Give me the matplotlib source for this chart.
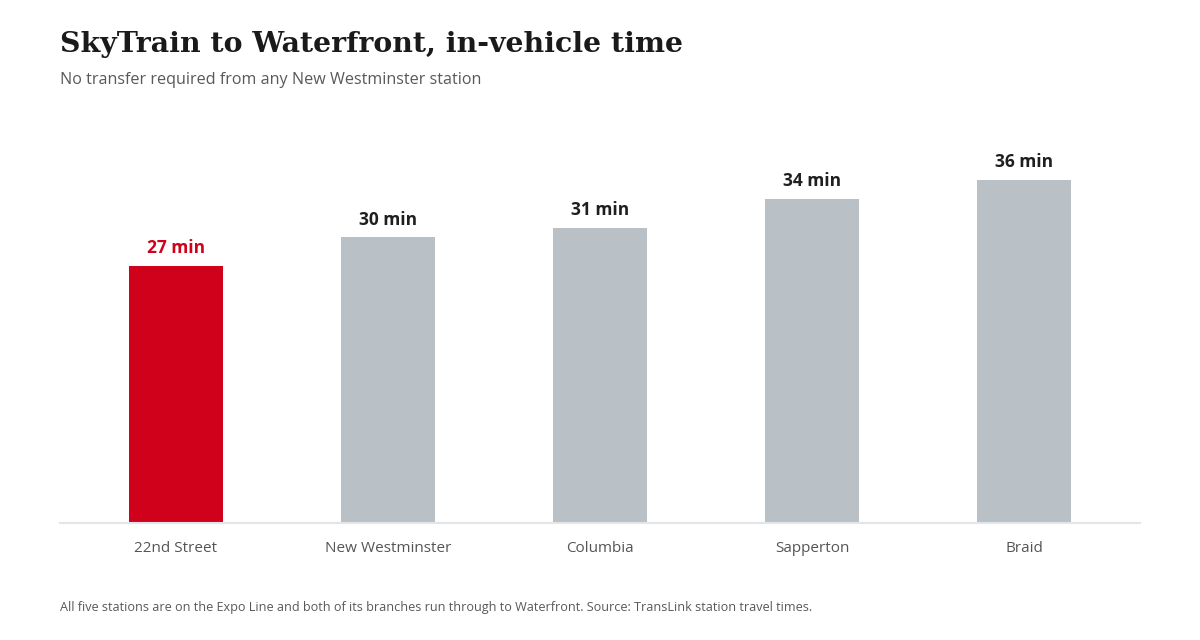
import matplotlib
matplotlib.use("Agg")
import matplotlib.pyplot as plt

stations = ["22nd Street", "New Westminster", "Columbia", "Sapperton", "Braid"]
minutes = [27, 30, 31, 34, 36]
highlight = "22nd Street"

RED = "#d0011b"
GREY = "#b9c1c6"

fig = plt.figure(figsize=(12, 6.4), dpi=100)
ax = fig.add_axes([0.05, 1 - 523 / 640, 0.90, 393 / 640])

x = list(range(len(stations)))
colors = [RED if s == highlight else GREY for s in stations]
ax.bar(x, minutes, width=0.443, color=colors, zorder=2)

for i, v in enumerate(minutes):
    c = RED if stations[i] == highlight else "#1f1f1f"
    ax.text(i, v + 0.9, f"{v} min", ha="center", va="bottom", fontsize=12.5,
            fontweight="bold", color=c, family="Open Sans")

ax.set_xlim(-0.547, len(stations) - 1 + 0.547)
ax.set_ylim(0, 393 / 9.53)
ax.set_xticks(x)
ax.set_xticklabels(stations, fontsize=11, color="#555555", family="Open Sans")
ax.tick_params(axis="x", length=0, pad=13)
ax.set_yticks([])
for side in ["top", "right", "left"]:
    ax.spines[side].set_visible(False)
ax.spines["bottom"].set_color("#e3e6e9")
ax.spines["bottom"].set_linewidth(1.5)

fig.text(0.05, 1 - 44 / 640, "SkyTrain to Waterfront, in-vehicle time", fontsize=20.4,
         fontweight="bold", family="DejaVu Serif", color="#1a1a1a", va="center")
fig.text(0.05, 1 - 80 / 640, "No transfer required from any New Westminster station",
         fontsize=11.6, color="#595959", family="Open Sans", va="center")
fig.text(0.05, 1 - 608 / 640,
         "All five stations are on the Expo Line and both of its branches run through to Waterfront. Source: TransLink station travel times.",
         fontsize=9.05, color="#595959", family="Open Sans", va="center")

fig.savefig("out.png", dpi=100, facecolor="white")
